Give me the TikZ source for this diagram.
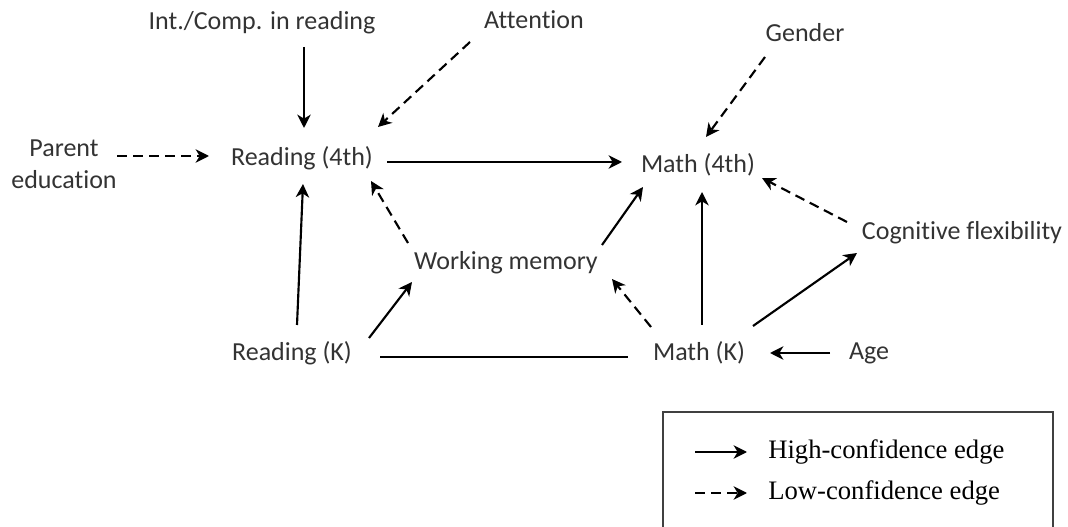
\documentclass[tikz,border=0pt]{standalone}
\usepackage{fontspec}
\setmainfont[Ligatures=NoCommon]{Carlito}
\newfontfamily\legendfont{Liberation Serif}
\usetikzlibrary{arrows.meta}

\tikzset{
  var/.style={inner sep=0pt, align=center, font=\fontsize{19.5}{24}\selectfont, text=black!80},
  hi/.style={-{Stealth[length=10pt,width=10pt,inset=3pt]}, line width=1.6pt},
  lo/.style={hi, dash pattern=on 7.5pt off 4.5pt},
  lk/.style={line width=1.6pt},
  legtxt/.style={inner sep=0pt, anchor=west, font=\legendfont\fontsize{20}{24}\selectfont},
}

\begin{document}
\begin{tikzpicture}[x=0.75pt,y=-0.75pt]
                    \clip (0,0) rectangle (1068,527);
                    % variables
                    \node[var] (ic) at (262,23) {Int./Comp. in reading};
                    \node[var] (attn) at (534,20) {Attention};
                    \node[var] (gen) at (805,33) {Gender};
                    \node[var] (pe) at (64,164) {Parent\\education};
                    \node[var] (r4) at (302,158) {Reading (4th)};
                    \node[var] (m4) at (698,165) {Math (4th)};
                    \node[var] (cf) at (962,233) {Cognitive flexibility};
                    \node[var] (wm) at (506,263) {Working memory};
                    \node[var] (rk) at (292,353) {Reading (K)};
                    \node[var] (mk) at (699,353) {Math (K)};
                    \node[var] (age) at (869,353) {Age};
                    % edges into Reading (4th)
                    \draw[hi] ([shift={(42,24)}]ic.center) -- ([shift={(2,-30)}]r4.center);
                    \draw[lo] ([shift={(-64,22)}]attn.center) -- ([shift={(76,-31)}]r4.center);
                    \draw[lo] ([shift={(53,-8)}]pe.center) -- ([shift={(-93,-2)}]r4.center);
                    \draw[hi] ([shift={(5,-28)}]rk.center) -- ([shift={(1,26)}]r4.center);
                    \draw[lo] ([shift={(-98,-20)}]wm.center) -- ([shift={(69,23)}]r4.center);
                    % edges into Math (4th)
                    \draw[hi] ([shift={(85,4)}]r4.center) -- ([shift={(-76,-3)}]m4.center);
                    \draw[lo] ([shift={(-40,24)}]gen.center) -- ([shift={(8,-28)}]m4.center);
                    \draw[lo] ([shift={(-115,-11)}]cf.center) -- ([shift={(64,13)}]m4.center);
                    \draw[hi] ([shift={(96,-18)}]wm.center) -- ([shift={(-55,22)}]m4.center);
                    \draw[hi] ([shift={(3,-28)}]mk.center) -- ([shift={(4,27)}]m4.center);
                    % kindergarten edges
                    \draw[hi] ([shift={(54,-27)}]mk.center) -- ([shift={(-105,20)}]cf.center);
                    \draw[lo] ([shift={(-48,-26)}]mk.center) -- ([shift={(106,16)}]wm.center);
                    \draw[hi] ([shift={(77,-15)}]rk.center) -- ([shift={(-94,19)}]wm.center);
                    \draw[lk] ([shift={(88,4)}]rk.center) -- ([shift={(-71,4)}]mk.center);
                    \draw[hi] ([shift={(-39,0)}]age.center) -- ([shift={(71,0)}]mk.center);
                    % legend
                    \draw[line width=1pt, black!75] (663,412) rectangle (1053,545);
                    \node[legtxt] (hitxt) at (768,452) {High-confidence edge};
                    \node[legtxt] (lotxt) at (768,493) {Low-confidence edge};
                    \draw[hi] ([shift={(-73,0)}]hitxt.west) -- ([shift={(-21,0)}]hitxt.west);
                    \draw[lo] ([shift={(-73,0)}]lotxt.west) -- ([shift={(-21,0)}]lotxt.west);
                \end{tikzpicture}
\end{document}
